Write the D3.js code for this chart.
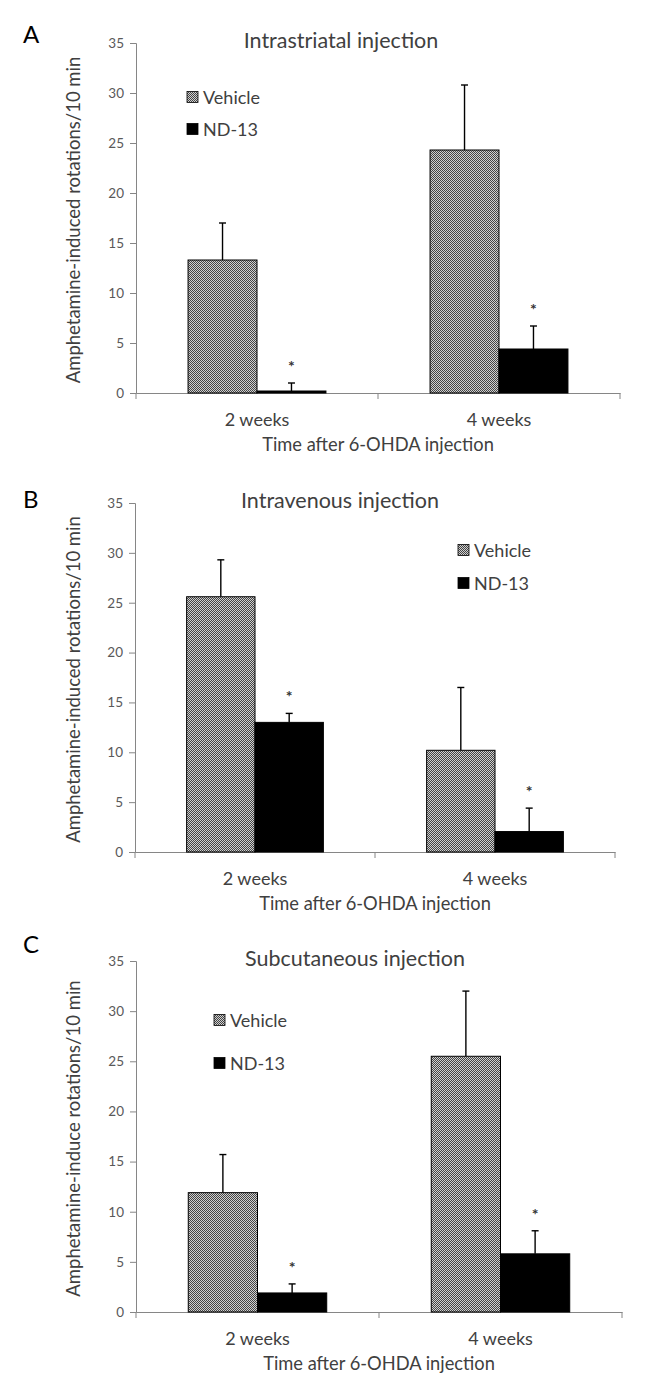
<!DOCTYPE html>
<html>
<head>
<meta charset="utf-8">
<script src="https://cdn.jsdelivr.net/npm/d3@7"></script>
<style>
  html, body { margin: 0; padding: 0; background: #fff; }
  svg { display: block; }
</style>
</head>
<body>
<div id="chart"></div>
<script>
// Drie panelen (A/B/C), gegroepeerde staafjes met SEM naar boven,
// Vehicle met Excel-achtig 50%-grijs patroon, ND-13 zwart.

const categories = ['2 weeks', '4 weeks'];
const seriesNames = ['Vehicle', 'ND-13'];
const yTicks = [0, 5, 10, 15, 20, 25, 30, 35];

// A — intrastriatal
const vehicleA = [13.3, 24.3];
const vehicleErrA = [3.7, 6.5];
const nd13A = [0.2, 4.4];
const nd13ErrA = [0.8, 2.3];

// B — intravenous
const vehicleB = [25.6, 10.2];
const vehicleErrB = [3.7, 6.3];
const nd13B = [13.0, 2.05];
const nd13ErrB = [0.9, 2.35];

// C — subcutaneous
const vehicleC = [11.9, 25.5];
const vehicleErrC = [3.8, 6.5];
const nd13C = [1.9, 5.8];
const nd13ErrC = [0.9, 2.3];

// significantie (*) per groep, alleen ND-13
const starsND13 = [true, true];

const panelTitles = ['Intrastriatal injection', 'Intravenous injection', 'Subcutaneous injection'];
const panelLetters = ['A', 'B', 'C'];
const yTitles = [
  'Amphetamine-induced rotations/10 min',
  'Amphetamine-induced rotations/10 min',
  'Amphetamine-induce rotations/10 min'
];
const xTitle = 'Time after 6-OHDA injection';

const FONT = 'Lato, "Open Sans", sans-serif';
const C = {
  axis: '#868686',
  tick: '#595959',
  text: '#404040',
  ink: '#000'
};

const W = 651, H = 1379;

// layout per paneel (pixels in de figuur)
const layout = [
  { top: 43,  zero: 393,  left: 136, right: 620, titleX: 341, letterY: 43,  legX: 187, legY: 97,   legGap: 32 },
  { top: 503, zero: 852,  left: 135, right: 615, titleX: 340, letterY: 508, legX: 458, legY: 550,  legGap: 33 },
  { top: 961, zero: 1312, left: 136, right: 622, titleX: 355, letterY: 953, legX: 214, legY: 1020, legGap: 43 }
];

const panels = [
  { veh: vehicleA, vehErr: vehicleErrA, nd: nd13A, ndErr: nd13ErrA },
  { veh: vehicleB, vehErr: vehicleErrB, nd: nd13B, ndErr: nd13ErrB },
  { veh: vehicleC, vehErr: vehicleErrC, nd: nd13C, ndErr: nd13ErrC }
];

const svg = d3.select('#chart').append('svg')
  .attr('width', W).attr('height', H)
  .attr('viewBox', `0 0 ${W} ${H}`);

// 50% grijs patroon (checker)
const defs = svg.append('defs');
const pat = defs.append('pattern')
  .attr('id', 'vehPat')
  .attr('patternUnits', 'userSpaceOnUse')
  .attr('width', 2).attr('height', 2);
pat.append('rect').attr('width', 2).attr('height', 2).attr('fill', '#d0d0d0');
pat.append('rect').attr('x', 0).attr('y', 0).attr('width', 1).attr('height', 1).attr('fill', '#444');
pat.append('rect').attr('x', 1).attr('y', 1).attr('width', 1).attr('height', 1).attr('fill', '#444');

const fills = { 'Vehicle': 'url(#vehPat)', 'ND-13': '#000' };

panels.forEach((p, i) => {
  const L = layout[i];
  const g = svg.append('g');

  const y = d3.scaleLinear().domain([0, 35]).range([L.zero, L.top]);
  const x0 = d3.scaleBand().domain(categories).range([L.left, L.right]).padding(0);
  const x1 = d3.scaleBand().domain(seriesNames).range([0, x0.bandwidth()])
    .paddingInner(0).paddingOuter(0.755);

  // y-as
  const yAxis = g.append('g')
    .attr('transform', `translate(${L.left},0)`)
    .call(d3.axisLeft(y).tickValues(yTicks).tickSize(6).tickPadding(6));
  yAxis.select('.domain').attr('stroke', C.axis);
  yAxis.selectAll('.tick line').attr('stroke', C.axis);
  yAxis.selectAll('.tick text')
    .attr('fill', C.tick).attr('font-family', FONT).attr('font-size', 13.5);

  // x-as: lijn + tickjes op de groepsgrenzen, labels in het midden
  const xAxis = g.append('g')
    .attr('transform', `translate(0,${L.zero})`)
    .call(d3.axisBottom(x0).tickSize(0).tickPadding(20));
  xAxis.select('.domain').attr('stroke', C.axis);
  xAxis.selectAll('.tick text')
    .attr('fill', C.text).attr('font-family', FONT).attr('font-size', 18);
  const bounds = categories.map(c => x0(c)).concat([L.right]);
  xAxis.selectAll('line.bound').data(bounds).join('line')
    .attr('class', 'bound')
    .attr('x1', d => d).attr('x2', d => d)
    .attr('y1', 0).attr('y2', 6)
    .attr('stroke', C.axis);

  // staven
  const rows = categories.map((c, k) => ({
    cat: c,
    items: [
      { s: 'Vehicle', v: p.veh[k], e: p.vehErr[k], star: false },
      { s: 'ND-13', v: p.nd[k], e: p.ndErr[k], star: starsND13[k] }
    ]
  }));

  const grp = g.selectAll('g.grp').data(rows).join('g')
    .attr('class', 'grp')
    .attr('transform', d => `translate(${x0(d.cat)},0)`);

  // foutbalken (alleen naar boven)
  grp.selectAll('line.err').data(d => d.items).join('line')
    .attr('class', 'err')
    .attr('x1', d => x1(d.s) + x1.bandwidth() / 2)
    .attr('x2', d => x1(d.s) + x1.bandwidth() / 2)
    .attr('y1', d => y(d.v))
    .attr('y2', d => y(d.v + d.e))
    .attr('stroke', C.ink).attr('stroke-width', 1.4);
  grp.selectAll('line.cap').data(d => d.items).join('line')
    .attr('class', 'cap')
    .attr('x1', d => x1(d.s) + x1.bandwidth() / 2 - 3.5)
    .attr('x2', d => x1(d.s) + x1.bandwidth() / 2 + 3.5)
    .attr('y1', d => y(d.v + d.e))
    .attr('y2', d => y(d.v + d.e))
    .attr('stroke', C.ink).attr('stroke-width', 1.4);

  grp.selectAll('rect.bar').data(d => d.items).join('rect')
    .attr('class', 'bar')
    .attr('x', d => x1(d.s))
    .attr('width', x1.bandwidth())
    .attr('y', d => y(d.v))
    .attr('height', d => y(0) - y(d.v))
    .attr('fill', d => fills[d.s])
    .attr('stroke', C.ink).attr('stroke-width', 1);

  // sterretjes
  grp.selectAll('text.star').data(d => d.items.filter(it => it.star)).join('text')
    .attr('class', 'star')
    .attr('x', d => x1(d.s) + x1.bandwidth() / 2)
    .attr('y', d => y(d.v + d.e) - 11)
    .attr('text-anchor', 'middle')
    .attr('font-family', FONT).attr('font-size', 16).attr('font-weight', 'bold')
    .attr('fill', '#333')
    .text('*');

  // titel
  g.append('text')
    .attr('x', L.titleX).attr('y', L.top + 5)
    .attr('text-anchor', 'middle')
    .attr('font-family', FONT).attr('font-size', 21.5)
    .attr('fill', C.text)
    .text(panelTitles[i]);

  // paneelletter
  g.append('text')
    .attr('x', 23).attr('y', L.letterY)
    .attr('font-family', FONT).attr('font-size', 24)
    .attr('fill', C.ink)
    .text(panelLetters[i]);

  // y-titel
  g.append('text')
    .attr('transform', `translate(80,${(L.top + L.zero) / 2 + 2}) rotate(-90)`)
    .attr('text-anchor', 'middle')
    .attr('font-family', FONT).attr('font-size', 18.5)
    .attr('fill', C.text)
    .text(yTitles[i]);

  // x-titel
  g.append('text')
    .attr('x', (L.left + L.right) / 2).attr('y', L.zero + 58)
    .attr('text-anchor', 'middle')
    .attr('font-family', FONT).attr('font-size', 18.3)
    .attr('fill', C.text)
    .text(xTitle);

  // legenda
  const leg = g.selectAll('g.leg').data(seriesNames).join('g')
    .attr('class', 'leg')
    .attr('transform', (d, k) => `translate(${L.legX},${L.legY + k * L.legGap})`);
  leg.append('rect')
    .attr('x', 0).attr('y', -5.5)
    .attr('width', 11).attr('height', 11)
    .attr('fill', d => fills[d])
    .attr('stroke', C.ink).attr('stroke-width', 0.8);
  leg.append('text')
    .attr('x', 16).attr('y', 6.5)
    .attr('font-family', FONT).attr('font-size', 18)
    .attr('fill', C.text)
    .text(d => d);
});
</script>
</body>
</html>
